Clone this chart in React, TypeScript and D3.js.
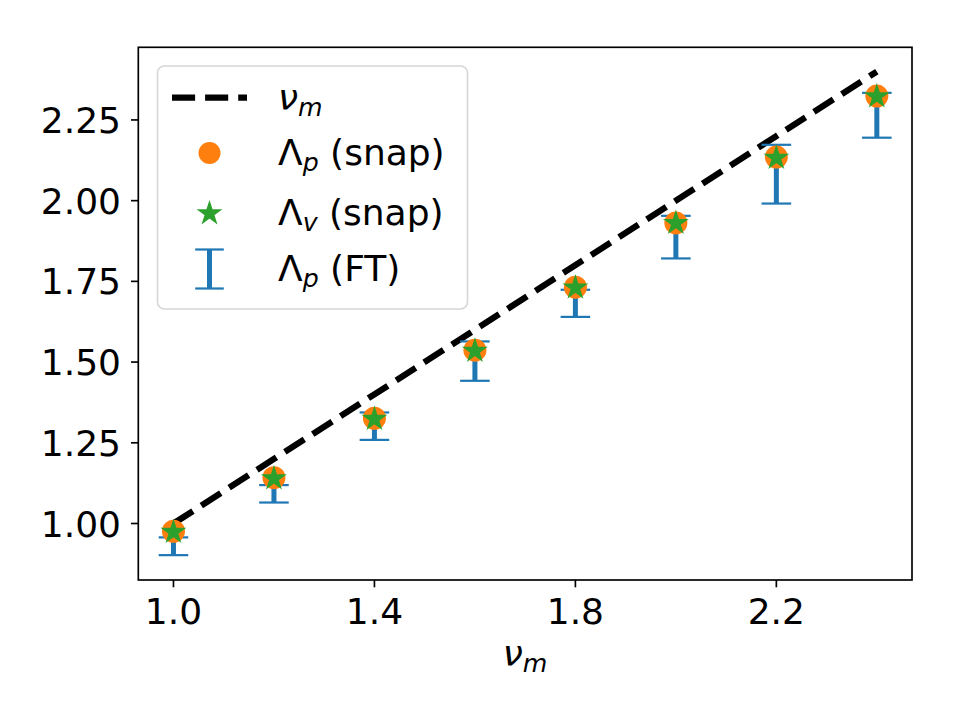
import React from 'react';
import * as d3 from 'd3';

// nu_m grid and the measured quantities
const nu = [1.0, 1.2, 1.4, 1.6, 1.8, 2.0, 2.2, 2.4];
const lambdaPSnap = [0.976, 1.142, 1.326, 1.537, 1.732, 1.931, 2.135, 2.324];
const lambdaVSnap = [0.975, 1.141, 1.325, 1.536, 1.732, 1.932, 2.134, 2.324];
const lambdaPFtLow = [0.902, 1.065, 1.259, 1.442, 1.640, 1.821, 1.991, 2.195];
const lambdaPFtHigh = [0.957, 1.119, 1.344, 1.564, 1.724, 1.953, 2.173, 2.334];

const xTicks = [1.0, 1.4, 1.8, 2.2];
const yTicks = [1.0, 1.25, 1.5, 1.75, 2.0, 2.25];

const W = 960;
const H = 717;
const left = 138.3;
const right = 912;
const top = 47.3;
const bottom = 580;

const FONT = 'DejaVu Sans, sans-serif';
const FS = 36;
const BLUE = '#1f77b4';
const ORANGE = '#ff7f0e';
const GREEN = '#2ca02c';

const x = d3.scaleLinear().domain([0.93, 2.47]).range([left, right]);
const y = d3.scaleLinear().domain([0.825, 2.475]).range([bottom, top]);

const starPath = d3.symbol(d3.symbolStar, 140)() as string;
const linePath = d3
  .line<number>()
  .x((d) => x(d))
  .y((d) => y(d))(nu) as string;

// text like "Λ_p (snap)" with matplotlib-ish subscript placement
const SubLabel = ({ tx, ty, base, sub, rest, italicBase, anchor }: any) => (
  <text
    x={tx}
    y={ty}
    fontFamily={FONT}
    fontSize={FS}
    textAnchor={anchor || 'start'}
    style={{ whiteSpace: 'pre' }}
  >
    <tspan fontStyle={italicBase ? 'italic' : 'normal'}>{base}</tspan>
    <tspan fontStyle="italic" fontSize={FS * 0.7} dy={6}>
      {sub}
    </tspan>
    {rest ? <tspan dy={-6}>{rest}</tspan> : null}
  </text>
);

const ErrBar = ({ cx, lo, hi, cap }: any) => (
  <g>
    <line x1={cx} x2={cx} y1={lo} y2={hi} stroke={BLUE} strokeWidth={5} />
    <line x1={cx - cap} x2={cx + cap} y1={lo} y2={lo} stroke={BLUE} strokeWidth={2.2} />
    <line x1={cx - cap} x2={cx + cap} y1={hi} y2={hi} stroke={BLUE} strokeWidth={2.2} />
  </g>
);

const Star = ({ cx, cy }: any) => (
  <path
    d={starPath}
    transform={`translate(${cx},${cy})`}
    fill={GREEN}
    stroke={GREEN}
    strokeWidth={1.5}
    strokeLinejoin="miter"
  />
);

const App = () => {
  const legX = 157.5;
  const legY = 66;
  const handleX = 209.5;
  const textX = 278;
  const rows = [97.5, 153, 213, 269];

  return (
    <svg
      width={W}
      height={H}
      style={{ position: 'absolute', left: 0, top: 0, background: '#fff' }}
    >
      <rect x={0} y={0} width={W} height={H} fill="#fff" />

      {/* y = nu_m reference line */}
      <path
        d={linePath}
        fill="none"
        stroke="#000"
        strokeWidth={6.25}
        strokeDasharray="23.1 10"
      />

      {/* FT error bars */}
      {nu.map((v, i) => (
        <ErrBar key={'e' + i} cx={x(v)} lo={y(lambdaPFtLow[i])} hi={y(lambdaPFtHigh[i])} cap={14.8} />
      ))}

      {/* snapshot estimates */}
      {nu.map((v, i) => (
        <circle key={'c' + i} cx={x(v)} cy={y(lambdaPSnap[i])} r={11.5} fill={ORANGE} />
      ))}
      {nu.map((v, i) => (
        <Star key={'s' + i} cx={x(v)} cy={y(lambdaVSnap[i]) + 0.5} />
      ))}

      {/* axes frame */}
      <rect
        x={left}
        y={top}
        width={right - left}
        height={bottom - top}
        fill="none"
        stroke="#000"
        strokeWidth={1.67}
      />

      {/* x ticks */}
      {xTicks.map((t) => (
        <g key={'xt' + t}>
          <line x1={x(t)} x2={x(t)} y1={bottom} y2={bottom + 7.3} stroke="#000" strokeWidth={1.67} />
          <text x={x(t)} y={624} textAnchor="middle" fontFamily={FONT} fontSize={FS}>
            {d3.format('.1f')(t)}
          </text>
        </g>
      ))}

      {/* y ticks */}
      {yTicks.map((t) => (
        <g key={'yt' + t}>
          <line x1={left - 7.3} x2={left} y1={y(t)} y2={y(t)} stroke="#000" strokeWidth={1.67} />
          <text
            x={121}
            y={y(t) + 13}
            textAnchor="end"
            fontFamily={FONT}
            fontSize={FS}
          >
            {d3.format('.2f')(t)}
          </text>
        </g>
      ))}

      {/* x label */}
      <SubLabel tx={525} ty={666} base="ν" sub="m" italicBase anchor="middle" />

      {/* legend */}
      <rect
        x={legX}
        y={legY}
        width={310}
        height={243}
        rx={7}
        fill="#fff"
        fillOpacity={0.8}
        stroke="#d6d6d6"
        strokeWidth={1.6}
      />
      <line
        x1={172}
        x2={247}
        y1={rows[0]}
        y2={rows[0]}
        stroke="#000"
        strokeWidth={6.25}
        strokeDasharray="23.1 10"
      />
      <SubLabel tx={textX} ty={rows[0] + 12} base="ν" sub="m" italicBase />

      <circle cx={handleX} cy={rows[1]} r={11} fill={ORANGE} />
      <SubLabel tx={textX} ty={rows[1] + 12} base="Λ" sub="p" rest=" (snap)" />

      <Star cx={handleX} cy={rows[2] + 0.5} />
      <SubLabel tx={textX} ty={rows[2] + 12} base="Λ" sub="v" rest=" (snap)" />

      <ErrBar cx={handleX} lo={rows[3] + 19.5} hi={rows[3] - 19.5} cap={14.3} />
      <SubLabel tx={textX} ty={rows[3] + 12} base="Λ" sub="p" rest=" (FT)" />
    </svg>
  );
};

export default App;
